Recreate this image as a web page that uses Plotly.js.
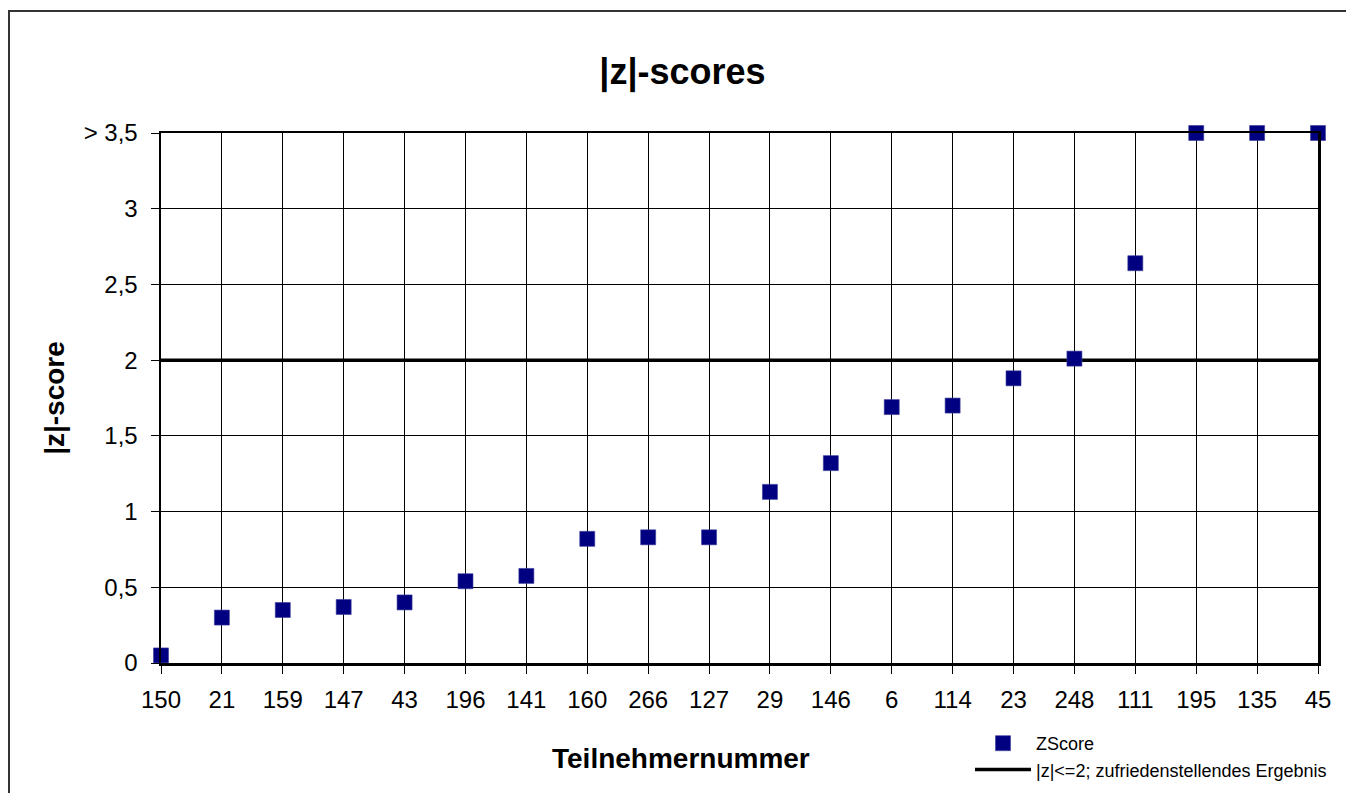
<!DOCTYPE html>
<html>
<head>
<meta charset="utf-8">
<script src="https://cdn.plot.ly/plotly-3.0.1.min.js"></script>
<style>
  html, body { margin: 0; padding: 0; background: #fff; }
  #wrap { position: relative; width: 1346px; height: 793px; overflow: hidden; }
  #chart { position: absolute; left: 0; top: 0; width: 1346px; height: 793px; }
  #frame { position: absolute; left: 8px; top: 10px; width: 1400px; height: 900px;
           border-left: 2px solid #333; border-top: 2px solid #333; pointer-events: none; }
</style>
</head>
<body>
<div id="wrap">
  <div id="chart"></div>
  <div id="frame"></div>
</div>
<script>
// Participant numbers (categories)
const participants = ["150","21","159","147","43","196","141","160","266","127",
                      "29","146","6","114","23","248","111","195","135","45"];
// |z|-scores (values > 3,5 are plotted at 3,5)
const zScores = [0.05, 0.30, 0.35, 0.37, 0.40, 0.54, 0.575, 0.82, 0.83, 0.83,
                 1.13, 1.32, 1.69, 1.70, 1.88, 2.01, 2.64, 3.5, 3.5, 3.5];
// Threshold line
const threshold = 2;
// Y tick values and labels
const yTickVals = [0, 0.5, 1, 1.5, 2, 2.5, 3, 3.5];
const yTickText = ["0", "0,5", "1", "1,5", "2", "2,5", "3", "> 3,5"];

const FONT = "Arial, 'Liberation Sans', sans-serif";

const thresholdTrace = {
  x: [participants[0], participants[participants.length - 1]],
  y: [threshold, threshold],
  type: "scatter",
  mode: "lines",
  name: "|z|<=2; zufriedenstellendes Ergebnis",
  line: { color: "#000", width: 3.5 },
  legendrank: 2,
  legendgroup: "b",
  cliponaxis: false,
  hoverinfo: "skip"
};

const scoreTrace = {
  x: participants,
  y: zScores,
  type: "scatter",
  mode: "markers",
  name: "ZScore",
  marker: { symbol: "square", size: 15, color: "#000080",
            line: { color: "#3a3a9a", width: 0.6 } },
  legendrank: 1,
  legendgroup: "a",
  cliponaxis: false
};

const layout = {
  width: 1346,
  height: 793,
  margin: { l: 161, r: 28, t: 133, b: 130, autoexpand: false },
  paper_bgcolor: "#fff",
  plot_bgcolor: "#fff",
  font: { family: FONT, color: "#000" },
  showlegend: true,
  title: {
    text: "<b>|z|-scores</b>",
    font: { family: FONT, size: 36, color: "#000" },
    x: 0.507, xanchor: "center",
    y: 1 - 71 / 793, yanchor: "middle", yref: "container"
  },
  annotations: [{
    text: "<b>Teilnehmernummer</b>",
    font: { family: FONT, size: 28, color: "#000" },
    xref: "paper", yref: "paper",
    x: (681 - 161) / 1157, xanchor: "center",
    y: (663 - 758) / 530, yanchor: "middle",
    showarrow: false
  }],
  xaxis: {
    type: "category",
    categoryorder: "array",
    categoryarray: participants,
    range: [0, participants.length - 1],
    showgrid: true,
    gridcolor: "#000",
    gridwidth: 1,
    showline: true,
    linecolor: "#000",
    linewidth: 2.5,
    mirror: true,
    ticks: "outside",
    ticklen: 8,
    tickwidth: 1,
    tickcolor: "#000",
    ticklabelstandoff: 6,
    tickfont: { family: FONT, size: 24, color: "#000" },
    zeroline: false,
    fixedrange: true,
    automargin: false
  },
  yaxis: {
    range: [0, 3.5],
    tickvals: yTickVals,
    ticktext: yTickText,
    showgrid: true,
    gridcolor: "#000",
    gridwidth: 1,
    showline: true,
    linecolor: "#000",
    linewidth: 2.5,
    mirror: true,
    ticks: "outside",
    ticklen: 8,
    tickwidth: 1,
    tickcolor: "#000",
    ticklabelstandoff: 8,
    tickfont: { family: FONT, size: 24, color: "#000" },
    zeroline: false,
    fixedrange: true,
    automargin: false,
    title: {
      text: "<b>|z|-score</b>",
      font: { family: FONT, size: 28, color: "#000" },
      standoff: 11
    }
  },
  legend: {
    x: (970 - 161) / 1157,
    xanchor: "left",
    y: (663 - 725) / 530,
    yanchor: "top",
    bgcolor: "rgba(0,0,0,0)",
    borderwidth: 0,
    font: { family: FONT, size: 18, color: "#000" },
    itemwidth: 56,
    tracegroupgap: 7,
    traceorder: "normal"
  }
};

Plotly.newPlot("chart", [thresholdTrace, scoreTrace], layout,
               { displayModeBar: false, staticPlot: true });
</script>
</body>
</html>
